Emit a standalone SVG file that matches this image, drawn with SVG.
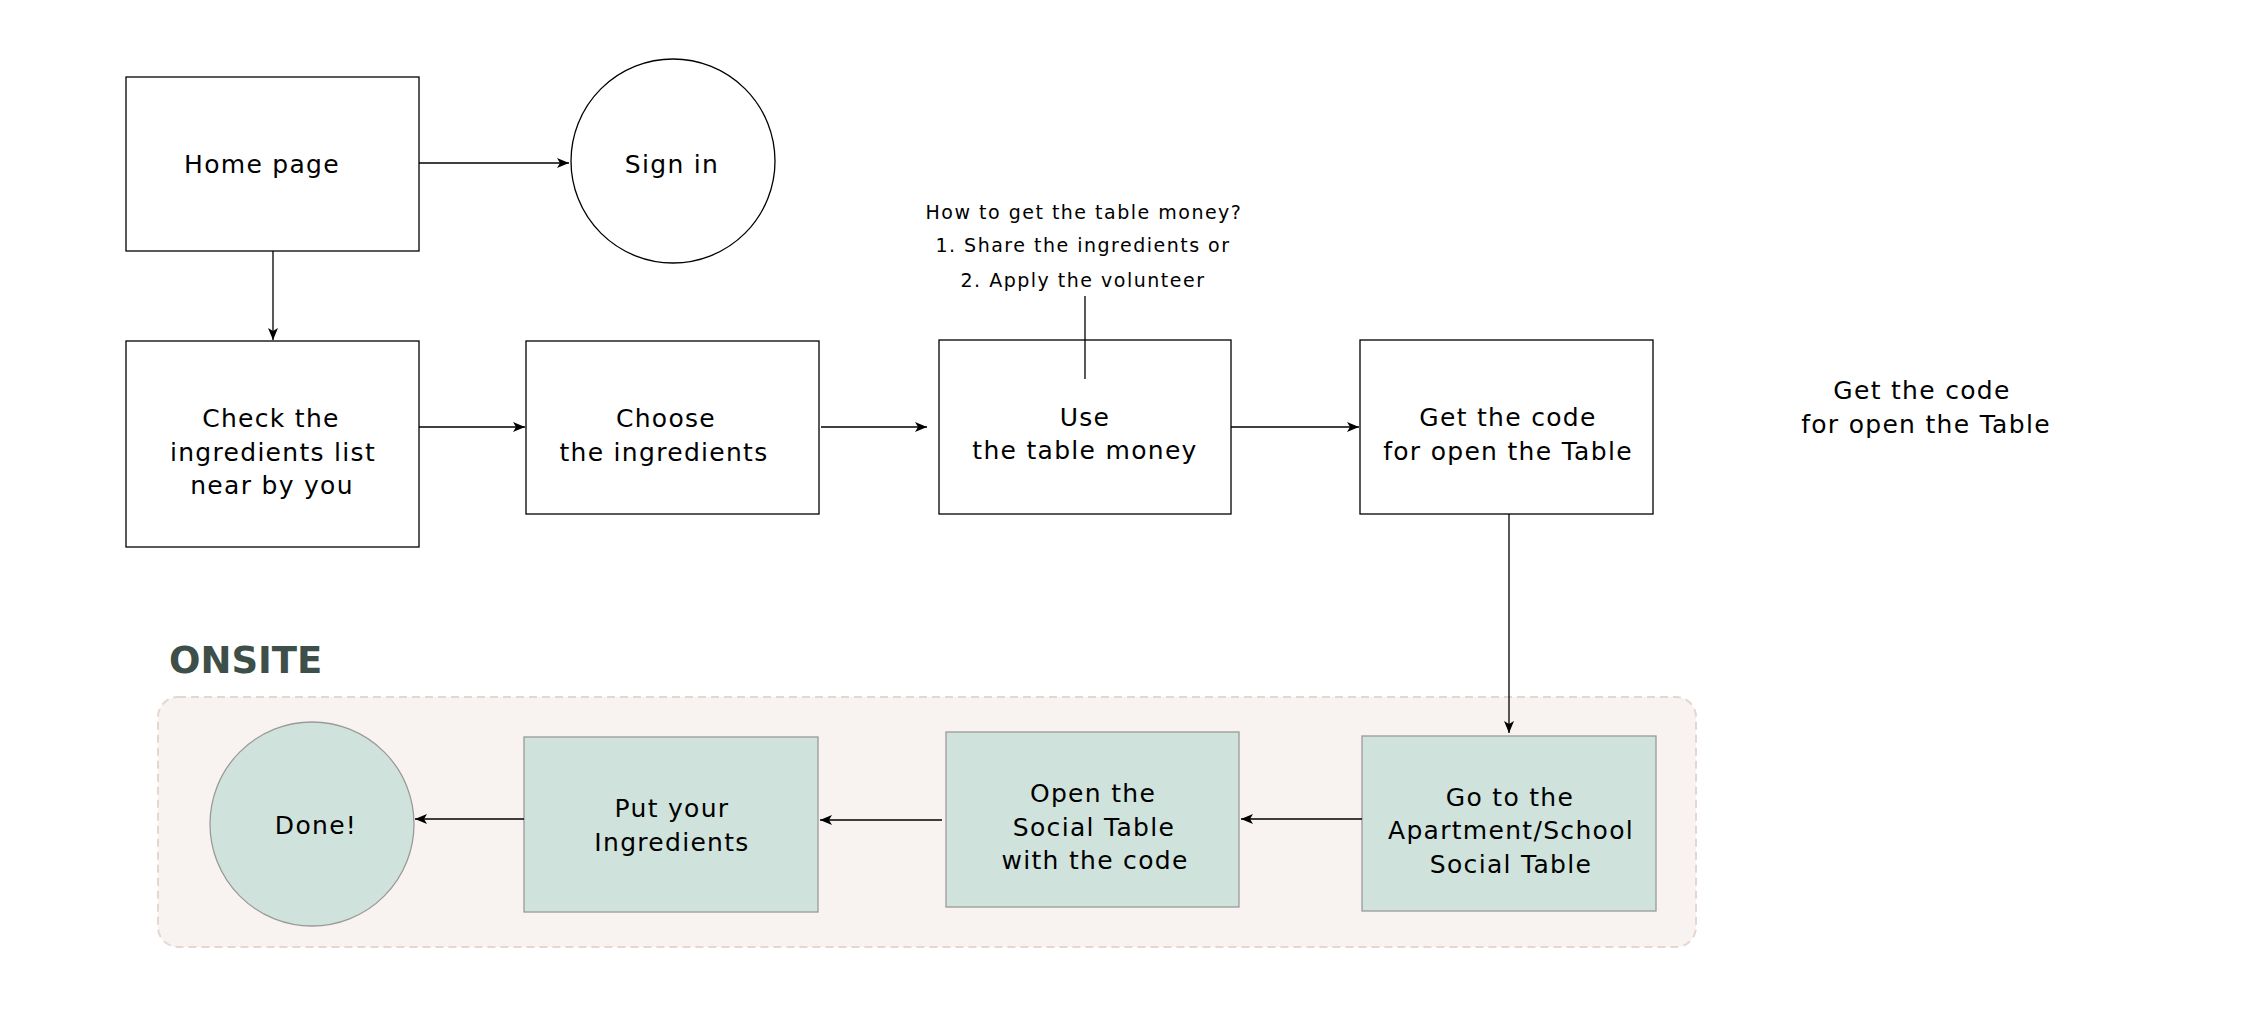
<svg xmlns="http://www.w3.org/2000/svg" width="2244" height="1036" viewBox="0 0 2244 1036">
  <defs>
    <marker id="arrow" markerUnits="userSpaceOnUse" markerWidth="14" markerHeight="12" refX="12" refY="5" orient="auto">
      <path d="M0,0 L12,5 L0,10 L3,5 Z" fill="#000"/>
    </marker>
    <style>
      .box { fill: #ffffff; stroke: #000000; stroke-width: 1.3; }
      .gbox { fill: #cfe3dc; stroke: #9a9a9a; stroke-width: 1.3; }
      .lbl { font-family: "DejaVu Sans", "Liberation Sans", sans-serif; font-size: 25px; letter-spacing: 1.3px; fill: #000; text-anchor: middle; }
      .note { font-family: "DejaVu Sans", "Liberation Sans", sans-serif; font-size: 19px; letter-spacing: 1.5px; fill: #000; text-anchor: middle; }
      .conn { fill: none; stroke: #000; stroke-width: 1.3; }
      .arr { marker-end: url(#arrow); }
    </style>
  </defs>
  <rect width="2244" height="1036" fill="#ffffff"/>

  <g id="onsite-container">
    <rect x="158" y="697" width="1538" height="250" rx="20" ry="20" fill="#f8f3f0" stroke="#e6d6d0" stroke-width="2" stroke-dasharray="8 5"/>
    <text x="169" y="673" font-family="DejaVu Sans, Liberation Sans, sans-serif" font-size="37" font-weight="bold" fill="#3d4f48">ONSITE</text>
  </g>

  <g id="home-page">
    <rect class="box" x="126" y="77" width="293" height="174"/>
    <text class="lbl" x="262" y="173">Home page</text>
  </g>

  <g id="sign-in">
    <circle cx="673" cy="161" r="102" fill="#fff" stroke="#000" stroke-width="1.3"/>
    <text class="lbl" x="672" y="173">Sign in</text>
  </g>

  <g id="check-list">
    <rect class="box" x="126" y="341" width="293" height="206"/>
    <text class="lbl" x="271" y="427">Check the</text>
    <text class="lbl" x="273" y="461">ingredients list</text>
    <text class="lbl" x="272" y="494">near by you</text>
  </g>

  <g id="choose">
    <rect class="box" x="526" y="341" width="293" height="173"/>
    <text class="lbl" x="666" y="427">Choose</text>
    <text class="lbl" x="664" y="461">the ingredients</text>
  </g>

  <g id="use-money">
    <rect class="box" x="939" y="340" width="292" height="174"/>
    <text class="lbl" x="1085" y="426">Use</text>
    <text class="lbl" x="1085" y="459">the table money</text>
  </g>

  <g id="money-note">
    <text class="note" x="1084" y="219">How to get the table money?</text>
    <text class="note" x="1083" y="252">1. Share the ingredients or</text>
    <text class="note" x="1083" y="287">2. Apply the volunteer</text>
  </g>

  <g id="get-code">
    <rect class="box" x="1360" y="340" width="293" height="174"/>
    <text class="lbl" x="1508" y="426">Get the code</text>
    <text class="lbl" x="1508" y="460">for open the Table</text>
  </g>

  <g id="side-note">
    <text class="lbl" x="1922" y="399">Get the code</text>
    <text class="lbl" x="1926" y="433">for open the Table</text>
  </g>

  <g id="go-to-table">
    <rect class="gbox" x="1362" y="736" width="294" height="175"/>
    <text class="lbl" x="1510" y="806">Go to the</text>
    <text class="lbl" x="1511" y="839">Apartment/School</text>
    <text class="lbl" x="1511" y="873">Social Table</text>
  </g>

  <g id="open-table">
    <rect class="gbox" x="946" y="732" width="293" height="175"/>
    <text class="lbl" x="1093" y="802">Open the</text>
    <text class="lbl" x="1094" y="836">Social Table</text>
    <text class="lbl" x="1095" y="869">with the code</text>
  </g>

  <g id="put-ingredients">
    <rect class="gbox" x="524" y="737" width="294" height="175"/>
    <text class="lbl" x="672" y="817">Put your</text>
    <text class="lbl" x="672" y="851">Ingredients</text>
  </g>

  <g id="done">
    <circle cx="312" cy="824" r="102" fill="#cfe3dc" stroke="#9a9a9a" stroke-width="1.3"/>
    <text class="lbl" x="316" y="834">Done!</text>
  </g>

  <g id="connectors">
    <line class="conn arr" x1="419" y1="163" x2="569" y2="163"/>
    <line class="conn arr" x1="273" y1="251" x2="273" y2="340"/>
    <line class="conn arr" x1="419" y1="427" x2="525" y2="427"/>
    <line class="conn arr" x1="821" y1="427" x2="927" y2="427"/>
    <line class="conn arr" x1="1231" y1="427" x2="1359" y2="427"/>
    <line class="conn arr" x1="1509" y1="514" x2="1509" y2="733"/>
    <line class="conn arr" x1="1362" y1="819" x2="1241" y2="819"/>
    <line class="conn arr" x1="942" y1="820" x2="820" y2="820"/>
    <line class="conn arr" x1="524" y1="819" x2="415" y2="819"/>
    <line class="conn" x1="1085" y1="296" x2="1085" y2="379"/>
  </g>
</svg>
